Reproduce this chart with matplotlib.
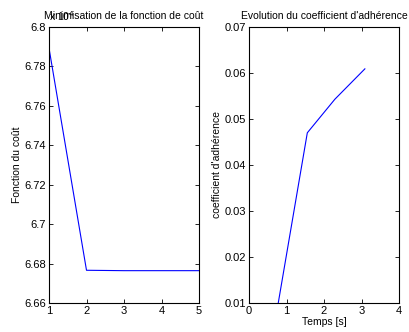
import numpy as np
import matplotlib.pyplot as plt
from matplotlib.ticker import FormatStrFormatter

plt.rcParams['font.family'] = ['Liberation Sans', 'DejaVu Sans']
plt.rcParams['font.size'] = 7.5

# données : fonction de coût par itération
iterations = [1, 2, 3, 4, 5]
cout = [6.7893, 6.6766, 6.6764, 6.6764, 6.6764]

# données : coefficient d'adhérence en fonction du temps
temps = [0.78, 1.555, 2.29, 3.09]
adherence = [0.0100, 0.0470, 0.0543, 0.0609]

fig = plt.figure(figsize=(4.09, 3.32), dpi=100)

ax1 = fig.add_axes([49 / 409, 29 / 332, 150 / 409, 276 / 332])
ax2 = fig.add_axes([249 / 409, 29 / 332, 150 / 409, 276 / 332])

ax1.plot(iterations, cout, color='blue', linewidth=0.8)
ax1.set_xlim(1, 5)
ax1.set_ylim(6.66, 6.8)
ax1.set_xticks([1, 2, 3, 4, 5])
ax1.set_yticks(np.arange(6.66, 6.8001, 0.02))
ax1.yaxis.set_major_formatter(FormatStrFormatter('%g'))
ax1.set_ylabel("Fonction du coût", labelpad=2)
ax1.set_title("Minimisation de la fonction de coût", pad=6, fontsize=7.5)
ax1.text(0.0, 1.015, r"x 10$^{4}$", transform=ax1.transAxes, ha='left', va='bottom', fontsize=7.5)

ax2.plot(temps, adherence, color='blue', linewidth=0.8)
ax2.set_xlim(0, 4)
ax2.set_ylim(0.01, 0.07)
ax2.set_xticks([0, 1, 2, 3, 4])
ax2.set_yticks(np.arange(0.01, 0.0701, 0.01))
ax2.yaxis.set_major_formatter(FormatStrFormatter('%g'))
ax2.set_xlabel("Temps [s]", labelpad=1)
ax2.set_ylabel("coefficient d'adhérence", labelpad=2)
ax2.set_title("Evolution du coefficient d'adhérence", pad=6, fontsize=7.5)

for ax in (ax1, ax2):
    ax.tick_params(direction='in', top=True, right=True, length=3, width=0.6, pad=2, labelsize=8)
    for s in ax.spines.values():
        s.set_linewidth(0.8)

fig.savefig("out.png", dpi=100)
